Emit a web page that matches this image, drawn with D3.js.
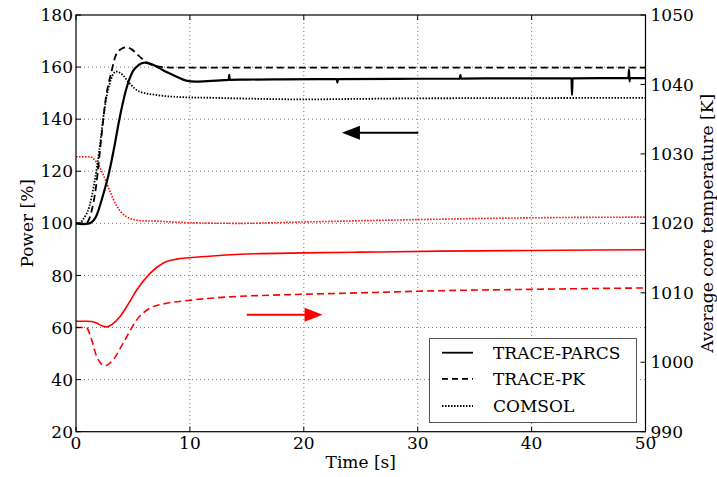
<!DOCTYPE html>
<html>
<head>
<meta charset="utf-8">
<script src="https://cdn.jsdelivr.net/npm/d3@7"></script>
<style>
  html, body { margin: 0; padding: 0; background: #fff; }
  svg { display: block; font-family: "DejaVu Serif", serif; }
</style>
</head>
<body>
<svg id="chart" width="717" height="477"></svg>
<script>
// ---------------- data ----------------
const xTicks = [0, 10, 20, 30, 40, 50];
const powerTicks = [20, 40, 60, 80, 100, 120, 140, 160, 180];
const tempTicks = [990, 1000, 1010, 1020, 1030, 1040, 1050];
const legendLabels = ["TRACE-PARCS", "TRACE-PK", "COMSOL"];

// Power [%] (left axis)
const parcsPowerT = [0, 0.6, 1.17, 1.76, 2.34, 2.93, 3.37, 3.81, 4.39, 4.98, 5.5, 6.0, 6.6, 7.32, 8.0, 8.79, 9.67, 10.5, 11.5, 13.0, 13.4, 13.45, 13.5, 15, 18, 22.9, 22.95, 23.0, 28, 33.7, 33.75, 33.8, 38, 43.5, 43.55, 43.6, 47, 48.5, 48.55, 48.6, 48.65, 50];
const parcsPowerV = [100, 99.7, 100, 102.6, 110.3, 120, 129.5, 140, 151.2, 158.3, 160.8, 161.7, 161.2, 159.6, 158, 156.4, 154.8, 154.4, 154.6, 155, 155.1, 157, 155.1, 155.2, 155.3, 155.4, 154, 155.4, 155.5, 155.6, 157, 155.6, 155.7, 155.7, 149.3, 155.7, 155.8, 155.8, 159, 154.5, 155.8, 155.8];

const pkPowerT = [0, 0.9, 1.32, 1.76, 2.2, 2.64, 3.08, 3.51, 4.0, 4.39, 4.9, 5.42, 6.3, 7.6, 9, 12, 20, 30, 40, 50];
const pkPowerV = [100, 100.2, 103.9, 114.1, 132, 148.7, 157.6, 164.7, 167, 167.6, 166.8, 164.7, 161.5, 160, 159.8, 159.8, 159.8, 159.8, 159.8, 159.8];

const comsolPowerT = [0, 0.3, 0.59, 1.17, 1.61, 2.05, 2.49, 2.93, 3.51, 4.1, 4.69, 5.57, 7.03, 9.67, 12, 15, 20, 25, 30, 40, 50];
const comsolPowerV = [100, 100, 101.4, 106.5, 115.4, 128.2, 143.6, 153.2, 158.3, 157, 153.8, 150.6, 149.3, 148.4, 148.2, 147.9, 147.6, 147.8, 148, 148.1, 148.2];

// Average core temperature [K] (right axis)
const parcsTempT = [0, 1.0, 1.76, 2.2, 2.7, 3.2, 3.87, 4.6, 5.33, 6.5, 7.67, 8.85, 9.87, 12, 14.4, 20, 25, 32, 40, 50];
const parcsTempV = [1005.9, 1005.9, 1005.7, 1005.3, 1005.1, 1005.5, 1006.6, 1008.4, 1010.4, 1012.8, 1014.3, 1014.85, 1015.05, 1015.3, 1015.55, 1015.75, 1015.85, 1016.0, 1016.1, 1016.2];

const pkTempT = [0, 0.9, 1.38, 1.82, 2.55, 3.28, 4.16, 5.33, 6.5, 7.67, 9.87, 14.4, 17.05, 25, 32, 40, 50];
const pkTempV = [1005.0, 1005.0, 1003.2, 1000.8, 999.5, 1000.4, 1002.8, 1006.1, 1007.8, 1008.4, 1008.9, 1009.5, 1009.65, 1010.0, 1010.3, 1010.5, 1010.7];

const comsolTempT = [0, 1.2, 1.76, 2.34, 2.93, 3.51, 4.39, 5.57, 7.3, 9.67, 14.4, 20, 32, 40, 50];
const comsolTempV = [1029.6, 1029.6, 1028.9, 1027.2, 1024.8, 1022.7, 1021.0, 1020.4, 1020.3, 1020.1, 1020.0, 1020.2, 1020.6, 1020.8, 1020.9];

// direction arrows (data coordinates on the power axis)
const arrowBlack = [[30.05, 134.8], [23.35, 134.8]];
const arrowRed = [[15.0, 64.9], [21.65, 64.9]];

// ---------------- layout ----------------
const L = 76, R = 645.5, T = 15, B = 431.7;
const svg = d3.select("#chart");
const x = d3.scaleLinear().domain([0, 50]).range([L, R]);
const yP = d3.scaleLinear().domain([20, 180]).range([B, T]);
const yT = d3.scaleLinear().domain([990, 1050]).range([B, T]);
const FS = 17;

// grid
const grid = svg.append("g").attr("stroke", "#7a7a7a").attr("stroke-width", 1).attr("stroke-dasharray", "1,3");
xTicks.slice(1, -1).forEach(t => grid.append("line").attr("x1", x(t)).attr("x2", x(t)).attr("y1", T).attr("y2", B));
powerTicks.slice(1, -1).forEach(v => grid.append("line").attr("x1", L).attr("x2", R).attr("y1", yP(v)).attr("y2", yP(v)));

// series
const clip = svg.append("clipPath").attr("id", "clip").append("rect").attr("x", L).attr("y", T).attr("width", R - L).attr("height", B - T);
const plot = svg.append("g").attr("clip-path", "url(#clip)");
function drawLine(ts, vs, yScale, color, width, dash) {
  const pts = ts.map((t, i) => [t, vs[i]]);
  const line = d3.line().x(d => x(d[0])).y(d => yScale(d[1])).curve(d3.curveMonotoneX);
  plot.append("path").attr("d", line(pts)).attr("fill", "none").attr("stroke", color)
    .attr("stroke-width", width).attr("stroke-dasharray", dash || null).attr("stroke-linejoin", "round");
}
const RED = "#ff0000";
drawLine(comsolTempT, comsolTempV, yT, RED, 1.6, "1.5,1.5");
drawLine(parcsTempT, parcsTempV, yT, RED, 1.6, null);
drawLine(pkTempT, pkTempV, yT, RED, 1.6, "7,4");
drawLine(comsolPowerT, comsolPowerV, yP, "#000", 1.8, "1.5,1.5");
drawLine(pkPowerT, pkPowerV, yP, "#000", 1.8, "7,4");
drawLine(parcsPowerT, parcsPowerV, yP, "#000", 2.2, null);

// arrows
function arrow(pts, color) {
  const x1 = x(pts[0][0]), y1 = yP(pts[0][1]), x2 = x(pts[1][0]), y2 = yP(pts[1][1]);
  const dir = Math.sign(x2 - x1), head = 18, hw = 7;
  svg.append("line").attr("x1", x1).attr("y1", y1).attr("x2", x2 - dir * head * 0.8).attr("y2", y2)
    .attr("stroke", color).attr("stroke-width", 2);
  svg.append("path").attr("d", `M${x2},${y2} L${x2 - dir * head},${y2 - hw} L${x2 - dir * head},${y2 + hw} Z`).attr("fill", color);
}
arrow(arrowBlack, "#000");
arrow(arrowRed, RED);

// frame
svg.append("rect").attr("x", L).attr("y", T).attr("width", R - L).attr("height", B - T)
  .attr("fill", "none").attr("stroke", "#000").attr("stroke-width", 1.2);

// ticks (inward)
const tk = svg.append("g").attr("stroke", "#000").attr("stroke-width", 1);
const TL = 5;
xTicks.forEach(t => {
  tk.append("line").attr("x1", x(t)).attr("x2", x(t)).attr("y1", B).attr("y2", B - TL);
  tk.append("line").attr("x1", x(t)).attr("x2", x(t)).attr("y1", T).attr("y2", T + TL);
});
powerTicks.forEach(v => tk.append("line").attr("x1", L).attr("x2", L + TL).attr("y1", yP(v)).attr("y2", yP(v)));
tempTicks.forEach(v => tk.append("line").attr("x1", R).attr("x2", R - TL).attr("y1", yT(v)).attr("y2", yT(v)));

// tick labels
const lab = svg.append("g").attr("font-size", FS).attr("fill", "#000");
xTicks.forEach(t => lab.append("text").attr("x", x(t)).attr("y", B + 17).attr("text-anchor", "middle").text(t));
powerTicks.forEach(v => lab.append("text").attr("x", L - 3).attr("y", yP(v)).attr("dy", "0.36em").attr("text-anchor", "end").text(v));
tempTicks.forEach(v => lab.append("text").attr("x", R + 5).attr("y", yT(v)).attr("dy", "0.36em").attr("text-anchor", "start").text(v));

// axis titles
lab.append("text").attr("x", (L + R) / 2).attr("y", 468).attr("text-anchor", "middle").text("Time [s]");
lab.append("text").attr("transform", `translate(27,${(T + B) / 2}) rotate(-90)`).attr("dy", "0.36em").attr("text-anchor", "middle").text("Power [%]");
lab.append("text").attr("transform", `translate(707,${(T + B) / 2}) rotate(-90)`).attr("dy", "0.36em").attr("text-anchor", "middle").text("Average core temperature [K]");

// legend
const lg = svg.append("g");
lg.append("rect").attr("x", 429.5).attr("y", 338.5).attr("width", 207).attr("height", 84)
  .attr("fill", "#fff").attr("stroke", "#555").attr("stroke-width", 1);
const legendDash = [null, "6,4", "1.5,1.5"];
const legendY = [352.7, 378.8, 406];
legendLabels.forEach((name, i) => {
  lg.append("line").attr("x1", 442).attr("x2", 473).attr("y1", legendY[i]).attr("y2", legendY[i])
    .attr("stroke", "#000").attr("stroke-width", 1.8).attr("stroke-dasharray", legendDash[i]);
  lg.append("text").attr("x", 493).attr("y", legendY[i]).attr("dy", "0.36em").attr("font-size", FS).text(name);
});
</script>
</body>
</html>
